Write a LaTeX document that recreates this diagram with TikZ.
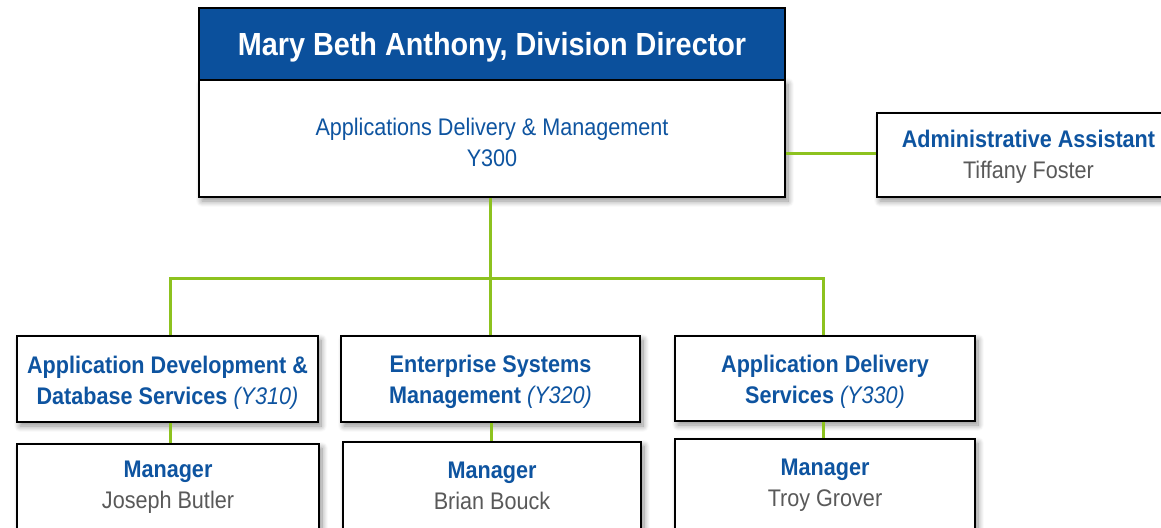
\documentclass[tikz,border=0pt]{standalone}
\usepackage{fontspec}
\setmainfont{Liberation Sans}[FakeStretch=0.90]
\usetikzlibrary{shadows.blur}
\definecolor{hdrblue}{RGB}{11,80,156}
\definecolor{txtblue}{RGB}{14,84,160}
\definecolor{txtgray}{RGB}{89,89,89}
\definecolor{lgreen}{RGB}{141,194,31}
\tikzset{
  boxshadow/.style={blur shadow={shadow xshift=3pt, shadow yshift=-4pt, shadow blur steps=10, shadow opacity=45, shadow blur radius=6pt}},
  box/.style={draw=black, line width=2pt, fill=white, align=center, inner sep=0pt},
  hdr/.style={box, fill=hdrblue, text=white, font=\fontsize{32}{36}\selectfont\bfseries},
  body/.style={font=\fontsize{24}{31}\selectfont},
  conn/.style={draw=lgreen, line width=3pt},
}
\newcommand{\nm}[1]{{\mdseries\color{txtgray}#1}}
\newcommand{\code}[1]{{\mdseries\itshape #1}}
\newcommand{\lift}[1]{\rule{0pt}{#1}}
\begin{document}
\begin{tikzpicture}[x=1pt, y=-1pt]
\useasboundingbox (0,0) rectangle (1161,527);
\coordinate (bus) at (490,278);
% boxes
\node[box, boxshadow, minimum width=586pt, minimum height=117pt, body, text=txtblue] (dirb) at (492,138.5)
  {\lift{26pt}Applications Delivery \& Management\\Y300};
\node[hdr, minimum width=586pt, minimum height=72pt] (dirh) at (492,44) {\lift{29pt}Mary Beth Anthony, Division Director};
\node[box, boxshadow, minimum width=303pt, minimum height=84pt, body] (adm) at (1028.5,155)
  {\lift{21pt}\textcolor{txtblue}{\bfseries Administrative Assistant}\\\nm{Tiffany Foster}};
\node[box, boxshadow, minimum width=301pt, minimum height=86pt, body, text=txtblue] (b1) at (167.5,379)
  {\lift{24pt}\bfseries Application Development \&\\\bfseries Database Services \code{(Y310)}};
\node[box, boxshadow, minimum width=299pt, minimum height=86pt, body, text=txtblue] (b2) at (490.5,379)
  {\lift{24pt}\bfseries Enterprise Systems\\\bfseries Management \code{(Y320)}};
\node[box, boxshadow, minimum width=300pt, minimum height=85pt, body, text=txtblue] (b3) at (825,378.5)
  {\lift{24pt}\bfseries Application Delivery\\\bfseries Services \code{(Y330)}};
\node[box, boxshadow, minimum width=302pt, minimum height=86pt, body] (m1) at (168,487)
  {\textcolor{txtblue}{\bfseries Manager}\\\nm{Joseph Butler}};
\node[box, boxshadow, minimum width=298pt, minimum height=88pt, body] (m2) at (492,486)
  {\textcolor{txtblue}{\bfseries Manager}\\\nm{Brian Bouck}};
\node[box, boxshadow, minimum width=300pt, minimum height=90pt, body] (m3) at (825,484)
  {\lift{19pt}\textcolor{txtblue}{\bfseries Manager}\\\nm{Troy Grover}};
% connectors
\draw[conn] (dirb.south -| bus) -- (bus);
\draw[conn] (b1.north -| 170,0) -- (170,278) -- (823,278) -- (b3.north -| 823,0);
\draw[conn] (b2.north -| bus) -- (bus);
\draw[conn] (dirb.east |- 0,153) -- (adm.west |- 0,153);
\draw[conn] (b1.south -| 170,0) -- (m1.north -| 170,0);
\draw[conn] (b2.south -| 491,0) -- (m2.north -| 491,0);
\draw[conn] (b3.south -| 823,0) -- (m3.north -| 823,0);
\end{tikzpicture}
\end{document}
